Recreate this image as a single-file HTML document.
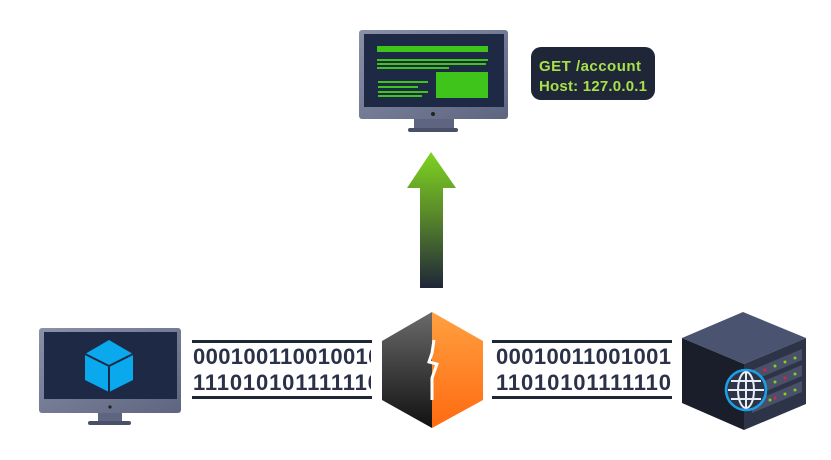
<!DOCTYPE html>
<html><head><style>body{margin:0;background:#fff}svg{display:block}</style></head><body>
<svg width="831" height="460" viewBox="0 0 831 460" xmlns="http://www.w3.org/2000/svg">
<defs>
<linearGradient id="ar" x1="0" y1="0" x2="0" y2="1"><stop offset="0" stop-color="#7ed321"/><stop offset="0.45" stop-color="#5a8a2a"/><stop offset="1" stop-color="#1f2638"/></linearGradient>
<linearGradient id="bd" x1="0" y1="0" x2="0" y2="1"><stop offset="0" stop-color="#6a6a6a"/><stop offset="1" stop-color="#111"/></linearGradient>
<linearGradient id="bo" x1="0" y1="0" x2="0" y2="1"><stop offset="0" stop-color="#ffa040"/><stop offset="1" stop-color="#ff6a10"/></linearGradient>
<linearGradient id="mon" x1="0" y1="0" x2="1" y2="1"><stop offset="0" stop-color="#8a90a8"/><stop offset="1" stop-color="#5e6580"/></linearGradient>
</defs>
<!-- top monitor -->
<rect x="359" y="30" width="149" height="89" rx="3" fill="url(#mon)"/>
<rect x="364" y="34" width="140" height="73" fill="#1e2a45"/>
<rect x="414" y="119" width="40" height="10" fill="#5e6580"/>
<rect x="408" y="128" width="50" height="4" rx="2" fill="#4a5068"/>
<circle cx="433" cy="114" r="2" fill="#222"/>
<g fill="#3ec41a">
<rect x="377" y="46" width="111" height="6"/>
<rect x="377" y="59" width="111" height="2"/><rect x="377" y="63" width="109" height="2"/><rect x="377" y="67" width="72" height="2"/>
<rect x="436" y="72" width="52" height="26"/>
<rect x="378" y="81" width="50" height="2"/><rect x="378" y="86" width="40" height="2"/><rect x="378" y="91" width="50" height="2"/><rect x="378" y="95" width="44" height="2"/>
</g>
<!-- bubble -->
<rect x="531" y="47" width="124" height="53" rx="10" fill="#1f2638"/>
<text x="539" y="71" font-family="Liberation Sans, sans-serif" font-weight="bold" font-size="15" fill="#a8e04a" textLength="102">GET /account</text>
<text x="539" y="91" font-family="Liberation Sans, sans-serif" font-weight="bold" font-size="15" fill="#a8e04a" textLength="108">Host: 127.0.0.1</text>
<!-- arrow -->
<path d="M431,152 L456,188 L443,188 L443,288 L420,288 L420,188 L407,188 Z" fill="url(#ar)"/>
<!-- left monitor -->
<rect x="39" y="328" width="142" height="85" rx="3" fill="url(#mon)"/>
<rect x="44" y="332" width="133" height="67" fill="#1e2a45"/>
<rect x="98" y="413" width="24" height="9" fill="#5e6580"/>
<rect x="88" y="421" width="43" height="4" rx="2" fill="#4a5068"/>
<circle cx="110" cy="407" r="1.6" fill="#222"/>
<path d="M109,340 L133,354 L133,380 L109,392 L85,380 L85,354 Z" fill="#0aa8ec"/>
<path d="M109,366 L85,354 M109,366 L133,354 M109,366 L109,392" stroke="#1e2a45" stroke-width="2" fill="none"/>
<!-- binary -->
<g fill="#1f2638"><rect x="192" y="340" width="180" height="3"/><rect x="192" y="396" width="180" height="3"/>
<rect x="492" y="340" width="180" height="3"/><rect x="492" y="396" width="180" height="3"/></g>
<svg x="192" y="340" width="179" height="60"><text x="1" y="24" font-family="Liberation Sans, sans-serif" font-weight="bold" font-size="22" fill="#2a3148" textLength="200">0001001100100100</text>
<text x="1" y="50" font-family="Liberation Sans, sans-serif" font-weight="bold" font-size="22" fill="#2a3148" textLength="200">1110101011111100</text></svg>
<text x="496" y="364" font-family="Liberation Sans, sans-serif" font-weight="bold" font-size="22" fill="#2a3148" textLength="175">00010011001001</text>
<text x="496" y="390" font-family="Liberation Sans, sans-serif" font-weight="bold" font-size="22" fill="#2a3148" textLength="175">11010101111110</text>
<!-- burp -->
<path d="M432,312 L432,428 L382,400 L382,341 Z" fill="url(#bd)"/>
<path d="M432,312 L483,341 L483,400 L432,428 Z" fill="url(#bo)"/>
<path d="M434,340 L432,353 L429,362 L437,364 L432,378 L432,400" stroke="#fff" stroke-width="3" fill="none"/>
<!-- server -->
<path d="M743,312 L806,338 L744,364 L682,338 Z" fill="#4a5470"/>
<path d="M682,338 L744,364 L744,430 L682,403 Z" fill="#1a1e2a"/>
<path d="M744,364 L806,338 L806,404 L744,430 Z" fill="#2e3447"/>
<g fill="#4a5068"><path d="M752,370 L802,349 L802,360 L752,381 Z"/><path d="M752,386 L802,365 L802,376 L752,397 Z"/><path d="M752,402 L802,381 L802,392 L752,413 Z"/></g>
<g fill="#7ed321"><circle cx="775" cy="366" r="1.5"/><circle cx="785" cy="362" r="1.5"/><circle cx="795" cy="358" r="1.5"/><circle cx="775" cy="382" r="1.5"/><circle cx="795" cy="374" r="1.5"/><circle cx="785" cy="394" r="1.5"/><circle cx="795" cy="390" r="1.5"/><circle cx="770" cy="400" r="1.5"/></g>
<g fill="#e0204a"><circle cx="765" cy="370" r="1.5"/><circle cx="785" cy="378" r="1.5"/><circle cx="775" cy="398" r="1.5"/></g>
<circle cx="746" cy="390" r="20" fill="#2e3447" stroke="#1aa0e8" stroke-width="2.5"/>
<g stroke="#e8eef5" stroke-width="2" fill="none"><ellipse cx="746" cy="390" rx="8" ry="18"/><line x1="746" y1="372" x2="746" y2="408"/><line x1="728" y1="390" x2="764" y2="390"/><line x1="731" y1="381" x2="761" y2="381"/><line x1="731" y1="399" x2="761" y2="399"/></g>
</svg>
</body></html>
